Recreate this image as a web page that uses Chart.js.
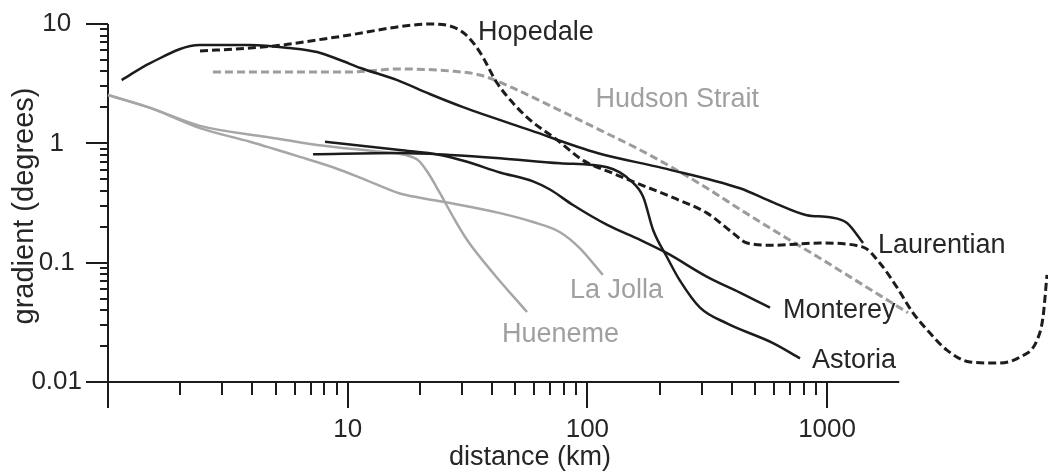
<!DOCTYPE html>
<html>
<head>
<meta charset="utf-8">
<script src="https://cdn.jsdelivr.net/npm/chart.js@4.4.0/dist/chart.umd.min.js"></script>
<style>
  body { margin: 0; background: #fff; }
  canvas { display: block; }
</style>
</head>
<body>
<canvas id="gradientChart" width="1048" height="474"></canvas>
<script>
// distance (km) and gradient (degrees) along each margin profile
const laurentianX = [1.14, 1.5, 2.42, 3.91, 5.74, 7.45, 9.3, 11.3, 16.1, 22, 30.3, 57.6, 110, 207, 433, 595, 824, 1028, 1211, 1413];
const laurentianY = [3.39, 4.71, 6.67, 6.67, 6.29, 5.82, 4.99, 4.28, 3.39, 2.59, 2.01, 1.29, 0.83, 0.62, 0.42, 0.32, 0.25, 0.24, 0.215, 0.146];

const hopedaleX = [2.42, 3.91, 5.37, 7.45, 10.2, 16.1, 22, 26.7, 30.9, 35.6, 42, 48.9, 57.6, 74.7, 95.9, 128, 177, 228, 316, 405, 463, 595, 934, 1413, 1662, 1958, 2282, 2687, 3162, 3947, 5117, 6383, 7515, 7960, 8270];
const hopedaleY = [5.94, 6.29, 6.67, 7.35, 8.09, 9.44, 10, 9.62, 8.24, 5.82, 3.2, 2.18, 1.57, 1.07, 0.72, 0.56, 0.43, 0.35, 0.26, 0.177, 0.146, 0.14, 0.146, 0.135, 0.099, 0.062, 0.038, 0.0257, 0.0185, 0.0147, 0.0144, 0.0162, 0.0224, 0.035, 0.079];

const montereyX = [8.04, 16.5, 24.3, 31.5, 43.2, 59.3, 69.8, 87.1, 121, 166, 215, 316, 433, 578];
const montereyY = [1.03, 0.88, 0.8, 0.7, 0.57, 0.48, 0.41, 0.304, 0.207, 0.155, 0.12, 0.076, 0.056, 0.042];

const astoriaX = [7.17, 16.5, 26.7, 43.2, 76.9, 121, 151, 171, 188, 215, 243, 295, 382, 595, 771];
const astoriaY = [0.81, 0.83, 0.8, 0.75, 0.68, 0.63, 0.49, 0.355, 0.188, 0.111, 0.071, 0.042, 0.031, 0.0212, 0.0158];

const hudsonX = [2.74, 6.32, 10.2, 16.5, 26.7, 35.6, 48.9, 67.8, 113, 166, 228, 316, 433, 595, 934, 1247, 2176];
const hudsonY = [3.96, 3.96, 3.96, 4.2, 4.04, 3.74, 2.91, 2.13, 1.29, 0.88, 0.62, 0.42, 0.28, 0.188, 0.109, 0.076, 0.038];

const huenemeX = [1, 1.5, 2.42, 4.61, 7.45, 13.6, 17.3, 19.7, 21.6, 24.3, 28, 31.5, 40.4, 56];
const huenemeY = [2.54, 1.98, 1.4, 1.13, 0.97, 0.85, 0.8, 0.72, 0.57, 0.38, 0.228, 0.155, 0.082, 0.0386];

const laJollaX = [1, 1.5, 2.42, 3.91, 6.32, 8.68, 12, 16.5, 20, 26.7, 43.2, 59.3, 76.9, 93.1, 116];
const laJollaY = [2.54, 1.98, 1.34, 1.03, 0.77, 0.63, 0.49, 0.38, 0.35, 0.316, 0.26, 0.219, 0.18, 0.132, 0.079];

// drawn axis spans 1..2000 km; the plot keeps going to the right edge for Hopedale's tail
const xAxisRange = [1, 2000];
const xViewMax = 8350;
const yRange = [0.01, 10];
const xTicks = [10, 100, 1000];
const xTickLabels = ['10', '100', '1000'];
const yTicks = [0.01, 0.1, 1, 10];
const yTickLabels = ['0.01', '0.1', '1', '10'];

const BLACK = '#1c1c1c';
const GREY = '#a6a6a6';
const FONT = '"Liberation Sans", Arial, sans-serif';

// name tags, anchored at (distance, gradient) of the text's left baseline
const seriesLabels = [
    { text: 'Hopedale', x: 35, y: 7.35, color: '#262626' },
    { text: 'Hudson Strait', x: 108, y: 2.01, color: '#a0a0a0' },
    { text: 'Laurentian', x: 1630, y: 0.12, color: '#262626' },
    { text: 'Monterey', x: 655, y: 0.0344, color: '#262626' },
    { text: 'Astoria', x: 865, y: 0.0131, color: '#262626' },
    { text: 'La Jolla', x: 84.6, y: 0.0505, color: '#a0a0a0' },
    { text: 'Hueneme', x: 44, y: 0.0217, color: '#a0a0a0' },
];

const toPoints = (xs, ys) => xs.map((x, i) => ({ x: x, y: ys[i] }));

function profile(label, xs, ys, color, dash, width) {
    return {
        label: label,
        data: toPoints(xs, ys),
        borderColor: color,
        borderWidth: width,
        borderDash: dash,
        pointRadius: 0,
        cubicInterpolationMode: 'monotone',
        fill: false,
        clip: false,
    };
}

// axis lines, decade ticks and the 2..9 minor ticks of both log axes
const logAxes = {
    id: 'logAxes',
    beforeDatasetsDraw(chart) {
        const { ctx, scales: { x, y } } = chart;
        const left = x.getPixelForValue(xAxisRange[0]);
        const right = x.getPixelForValue(xAxisRange[1]);
        const bottom = y.getPixelForValue(yRange[0]);
        const top = y.getPixelForValue(yRange[1]);
        ctx.save();
        ctx.strokeStyle = BLACK;
        ctx.lineWidth = 2;
        ctx.beginPath();
        ctx.moveTo(left, top);
        ctx.lineTo(left, bottom);
        ctx.lineTo(right, bottom);
        for (let dec = xAxisRange[0]; dec < xAxisRange[1]; dec *= 10) {
            for (let m = 1; m < 10; m++) {
                const v = dec * m;
                if (v >= xAxisRange[1]) break;
                const px = Math.round(x.getPixelForValue(v));
                ctx.moveTo(px, bottom);
                ctx.lineTo(px, bottom + (m === 1 ? 26 : 13));
            }
        }
        for (let dec = yRange[0]; dec <= yRange[1] * 1.001; dec *= 10) {
            for (let m = 1; m < 10; m++) {
                const v = dec * m;
                if (v > yRange[1] * 1.001) break;
                const py = Math.round(y.getPixelForValue(v));
                ctx.moveTo(left, py);
                ctx.lineTo(left - (m === 1 ? 22 : 8), py);
            }
        }
        ctx.stroke();
        ctx.restore();
    },
    afterDatasetsDraw(chart) {
        const { ctx, chartArea, scales: { x, y } } = chart;
        ctx.save();
        ctx.font = '27px ' + FONT;
        ctx.textAlign = 'left';
        ctx.textBaseline = 'alphabetic';
        seriesLabels.forEach((l) => {
            ctx.fillStyle = l.color;
            ctx.fillText(l.text, x.getPixelForValue(l.x), y.getPixelForValue(l.y));
        });

        ctx.fillStyle = '#262626';
        ctx.textAlign = 'center';
        ctx.textBaseline = 'middle';
        ctx.fillText('distance (km)', chartArea.left + 422, chartArea.bottom + 76);

        ctx.translate(25, (chartArea.top + chartArea.bottom) / 2 + 3);
        ctx.rotate(-Math.PI / 2);
        ctx.font = '29px ' + FONT;
        ctx.fillText('gradient (degrees)', 0, 0);
        ctx.restore();
    }
};

const ctx = document.getElementById('gradientChart').getContext('2d');

const chart = new Chart(ctx, {
    type: 'line',
    data: {
        datasets: [
            profile('Laurentian', laurentianX, laurentianY, BLACK, [], 2.5),
            profile('Hopedale', hopedaleX, hopedaleY, BLACK, [8, 4], 3),
            profile('Monterey', montereyX, montereyY, BLACK, [], 2.5),
            profile('Astoria', astoriaX, astoriaY, BLACK, [], 2.5),
            profile('Hudson Strait', hudsonX, hudsonY, '#9c9c9c', [8, 4], 3),
            profile('Hueneme', huenemeX, huenemeY, GREY, [], 2.5),
            profile('La Jolla', laJollaX, laJollaY, GREY, [], 2.5),
        ],
    },
    options: {
        responsive: false,
        animation: false,
        events: [],
        layout: { padding: { top: 24, right: 0, bottom: 0, left: 0 } },
        plugins: {
            legend: { display: false },
            tooltip: { enabled: false },
        },
        scales: {
            x: {
                type: 'logarithmic',
                min: xAxisRange[0],
                max: xViewMax,
                grid: { display: false },
                border: { display: false },
                afterBuildTicks: (scale) => { scale.ticks = xTicks.map((v) => ({ value: v })); },
                afterFit: (scale) => {
                    scale.height = 92;
                    scale.paddingLeft = 0;
                    scale.paddingRight = 0;
                },
                ticks: {
                    autoSkip: false,
                    maxRotation: 0,
                    padding: 24,
                    color: '#262626',
                    font: { family: FONT, size: 26 },
                    callback: (value, index) => xTickLabels[index],
                },
            },
            y: {
                type: 'logarithmic',
                min: yRange[0],
                max: yRange[1],
                grid: { display: false },
                border: { display: false },
                afterBuildTicks: (scale) => { scale.ticks = yTicks.map((v) => ({ value: v })); },
                afterFit: (scale) => {
                    scale.width = 108;
                    scale.paddingTop = 0;
                    scale.paddingBottom = 0;
                },
                ticks: {
                    autoSkip: false,
                    crossAlign: 'center',
                    padding: 18,
                    color: '#262626',
                    font: { family: FONT, size: 26 },
                    callback: (value, index) => yTickLabels[index],
                },
            },
        },
    },
    plugins: [logAxes],
});
</script>
</body>
</html>
